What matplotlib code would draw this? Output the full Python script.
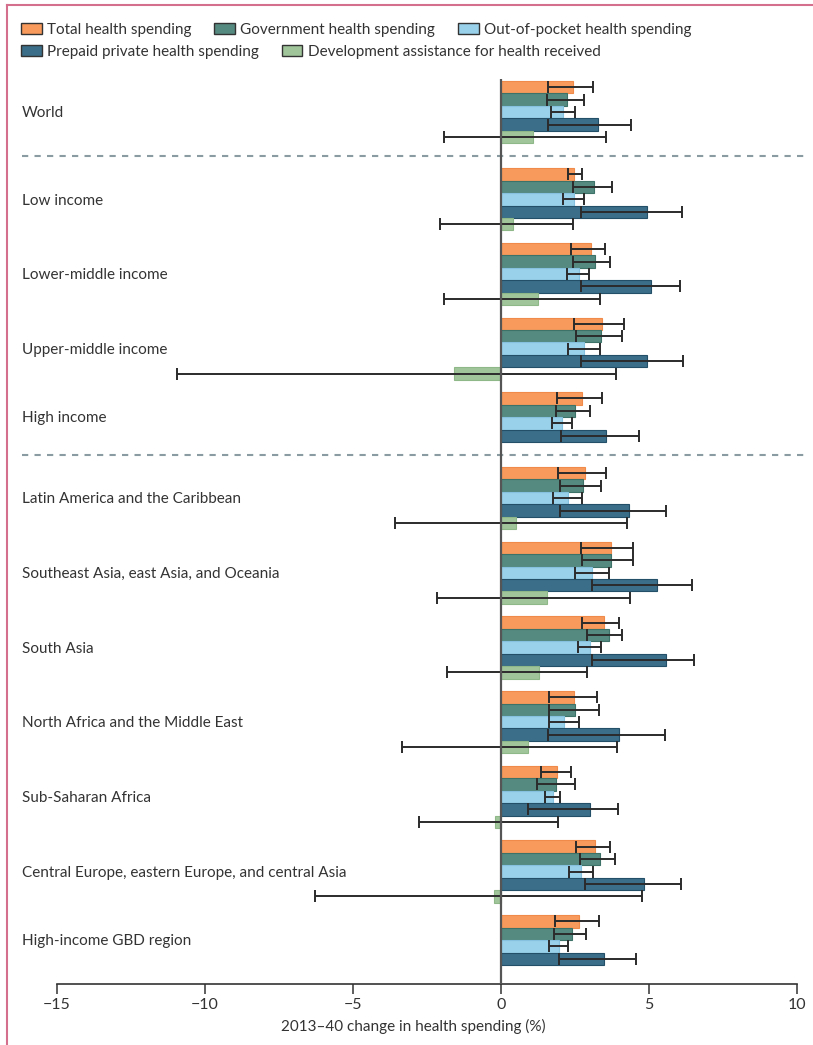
import numpy as np
import matplotlib.pyplot as plt
from matplotlib.patches import Rectangle
from matplotlib.lines import Line2D

plt.rcParams['font.family'] = ['Lato', 'DejaVu Sans']
plt.rcParams['axes.unicode_minus'] = True

regions = ['World', 'Low income', 'Lower-middle income', 'Upper-middle income', 'High income',
           'Latin America and the Caribbean', 'Southeast Asia, east Asia, and Oceania',
           'South Asia', 'North Africa and the Middle East', 'Sub-Saharan Africa',
           'Central Europe, eastern Europe, and central Asia', 'High-income GBD region']
series = ['Total health spending', 'Government health spending', 'Out-of-pocket health spending',
          'Prepaid private health spending', 'Development assistance for health received']
colors = ['#f79a5c', '#558a80', '#99d0ea', '#3b6e88', '#a0c59a']
edges = ['#f08a4a', '#3d7268', '#86c2e0', '#234f68', '#8fb889']

nan = np.nan
total = [2.43, 2.47, 3.05, 3.41, 2.73, 2.85, 3.70, 3.49, 2.47, 1.90, 3.18, 2.65]
total_lo = [1.59, 2.27, 2.36, 2.45, 1.88, 1.91, 2.71, 2.75, 1.62, 1.35, 2.53, 1.82]
total_hi = [3.11, 2.75, 3.52, 4.17, 3.41, 3.56, 4.47, 3.97, 3.24, 2.36, 3.69, 3.32]

gov = [2.24, 3.14, 3.16, 3.39, 2.49, 2.77, 3.70, 3.65, 2.49, 1.87, 3.33, 2.40]
gov_lo = [1.55, 2.43, 2.44, 2.53, 1.87, 1.98, 2.75, 2.92, 1.62, 1.22, 2.67, 1.80]
gov_hi = [2.80, 3.75, 3.68, 4.10, 3.01, 3.38, 4.46, 4.10, 3.31, 2.51, 3.85, 2.88]

oop = [2.09, 2.47, 2.64, 2.79, 2.06, 2.25, 3.07, 3.01, 2.12, 1.76, 2.70, 1.96]
oop_lo = [1.68, 2.08, 2.23, 2.25, 1.71, 1.74, 2.51, 2.61, 1.61, 1.49, 2.30, 1.63]
oop_hi = [2.51, 2.82, 2.98, 3.36, 2.40, 2.75, 3.66, 3.39, 2.64, 2.00, 3.10, 2.28]

prepaid = [3.28, 4.92, 5.06, 4.92, 3.56, 4.34, 5.26, 5.57, 4.00, 3.01, 4.84, 3.47]
prepaid_lo = [1.59, 2.69, 2.69, 2.69, 2.03, 1.98, 3.07, 3.07, 1.58, 0.91, 2.84, 1.96]
prepaid_hi = [4.39, 6.13, 6.05, 6.15, 4.67, 5.59, 6.46, 6.53, 5.55, 3.95, 6.09, 4.57]

dah = [1.08, 0.41, 1.25, -1.60, nan, 0.51, 1.55, 1.28, 0.91, -0.19, -0.25, nan]
dah_lo = [-1.93, -2.07, -1.91, -10.95, nan, -3.58, -2.15, -1.81, -3.33, -2.77, -6.28, nan]
dah_hi = [3.54, 2.43, 3.34, 3.89, nan, 4.25, 4.36, 2.89, 3.93, 1.94, 4.77, nan]

values = [total, gov, oop, prepaid, dah]
lows = [total_lo, gov_lo, oop_lo, prepaid_lo, dah_lo]
highs = [total_hi, gov_hi, oop_hi, prepaid_hi, dah_hi]

fig = plt.figure(figsize=(8.13, 10.45), dpi=100)
W, H = 813, 1045
ax_left, ax_right, ax_top, ax_bottom = 22, 805, 79, 984
ax = fig.add_axes([ax_left / W, 1 - ax_bottom / H, (ax_right - ax_left) / W, (ax_bottom - ax_top) / H])

# one slot = one bar; groups of 6 slots, an extra slot after World
n = len(regions)
starts = np.arange(n) * 6 + (np.arange(n) > 0)

for s, (vals, lo, hi) in enumerate(zip(values, lows, highs)):
    vals = np.array(vals); lo = np.array(lo); hi = np.array(hi)
    ok = ~np.isnan(vals)
    y = starts[ok] + s + 0.5
    ax.barh(y, vals[ok], height=1.0, color=colors[s], edgecolor=edges[s], linewidth=0.8, zorder=2)
    ax.errorbar(vals[ok], y, xerr=[vals[ok] - lo[ok], hi[ok] - vals[ok]], fmt='none',
                ecolor='#2b2b2b', elinewidth=1.4, capsize=4.5, capthick=1.4, zorder=3)

x_left = -15 - (57 - ax_left) / 29.6
x_right = 10 + (ax_right - 797) / 29.6
ax.set_xlim(x_left, x_right)
slot_px = 12.45
ax.set_ylim((ax_bottom - 81) / slot_px, (ax_top - 81) / slot_px)

for i, r in enumerate(regions):
    nbars = 5 if not np.isnan(dah[i]) else 4
    ax.text(x_left, starts[i] + nbars / 2 + 0.1, r, ha='left', va='center', fontsize=11, color='#333333')

# separators
for y in [starts[1] - 1.0, starts[5] - 1.0]:
    ax.axhline(y, color='#8a9ca2', linestyle=(0, (3, 3)), linewidth=1.5, zorder=1)

ax.axvline(0, color='#555555', linewidth=1.6, zorder=4)

for sp in ['top', 'right', 'left']:
    ax.spines[sp].set_visible(False)
ax.spines['bottom'].set_bounds(-15, 10)
ax.spines['bottom'].set_color('#333333')
ax.spines['bottom'].set_linewidth(1.2)
ax.set_yticks([])
ax.set_xticks([-15, -10, -5, 0, 5, 10])
ax.set_xticklabels(['\u221215', '\u221210', '\u22125', '0', '5', '10'])
ax.tick_params(axis='x', direction='out', length=7, width=1.1, color='#333333',
               labelsize=11.5, labelcolor='#333333', pad=3)
ax.set_xlabel('2013\u201340 change in health spending (%)', fontsize=11, color='#333333', labelpad=5)

# legend in two rows
handles = [Rectangle((0, 0), 1, 1, facecolor=c, edgecolor='#333333', linewidth=1.0) for c in colors]
leg_kw = dict(frameon=False, fontsize=11, handlelength=1.35, handleheight=0.75,
              handletextpad=0.35, columnspacing=1.5, borderpad=0, borderaxespad=0, labelcolor='#333333')
leg1 = fig.legend(handles[:3], series[:3], ncol=3, loc='center left',
                  bbox_to_anchor=(21 / W, 1 - 30 / H), **leg_kw)
leg2 = fig.legend(handles[3:], series[3:], ncol=2, loc='center left',
                  bbox_to_anchor=(21 / W, 1 - 52 / H), **leg_kw)

# page border
border = '#d4708e'
fig.add_artist(Line2D([7 / W, 1], [1 - 5 / H, 1 - 5 / H], color=border, linewidth=1.5))
fig.add_artist(Line2D([7 / W, 7 / W], [0, 1 - 5 / H], color=border, linewidth=1.5))

fig.savefig('out.png', dpi=100)
